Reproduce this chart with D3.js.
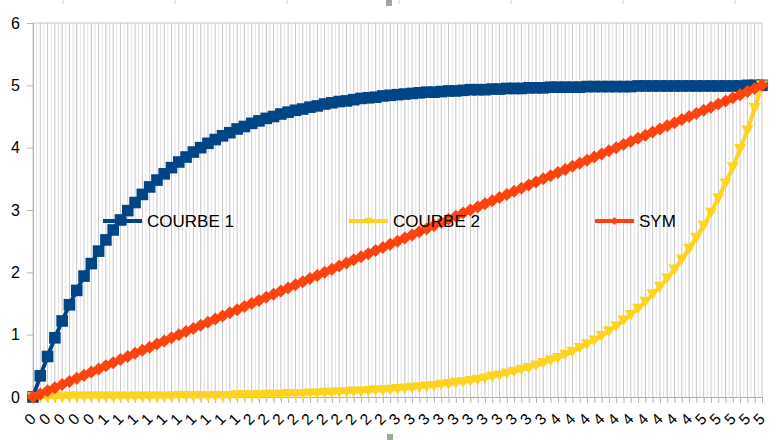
<!DOCTYPE html>
<html>
<head>
<meta charset="utf-8">
<style>
body {
  margin: 0;
  background: #fff;
}
text {
  font-family: "Liberation Sans", Arial, sans-serif;
  fill: #000;
}
</style>
<script src="https://cdn.jsdelivr.net/npm/d3@7"></script>
</head>
<body>
<script>
  const width = 780;
  const height = 440;

  // 101 categories, one label shown every second one
  const categories = d3.range(101);
  const tickLabels = [
    "0","0","0","0","0",
    "1","1","1","1","1","1","1","1","1","1",
    "2","2","2","2","2","2","2","2","2","2",
    "3","3","3","3","3","3","3","3","3","3","3",
    "4","4","4","4","4","4","4","4","4","4",
    "5","5","5","5","5"
  ];
  const yTicks = [0, 1, 2, 3, 4, 5, 6];
  const seriesNames = ["COURBE 1", "COURBE 2", "SYM"];

  const courbe1 = [
    0, 0.34, 0.65, 0.95, 1.22, 1.48, 1.71, 1.94, 2.14, 2.34,
    2.52, 2.68, 2.84, 2.99, 3.12, 3.25, 3.37, 3.48, 3.58, 3.68,
    3.77, 3.85, 3.93, 4.00, 4.07, 4.13, 4.19, 4.24, 4.30, 4.34,
    4.39, 4.43, 4.47, 4.50, 4.54, 4.57, 4.60, 4.62, 4.65, 4.67,
    4.70, 4.72, 4.74, 4.75, 4.77, 4.79, 4.80, 4.81, 4.83, 4.84,
    4.85, 4.86, 4.87, 4.88, 4.89, 4.89, 4.90, 4.91, 4.91, 4.92,
    4.93, 4.93, 4.93, 4.94, 4.94, 4.95, 4.95, 4.95, 4.96, 4.96,
    4.96, 4.97, 4.97, 4.97, 4.97, 4.97, 4.98, 4.98, 4.98, 4.98,
    4.98, 4.98, 4.98, 4.99, 4.99, 4.99, 4.99, 4.99, 4.99, 4.99,
    4.99, 4.99, 4.99, 4.99, 4.99, 4.99, 4.99, 4.99, 5.00, 5.00, 5.00
  ];

  const courbe2 = [
    0.00, 0.00, 0.00, 0.00, 0.00, 0.01, 0.01, 0.01, 0.01, 0.01,
    0.01, 0.01, 0.01, 0.01, 0.01, 0.01, 0.01, 0.01, 0.01, 0.01,
    0.02, 0.02, 0.02, 0.02, 0.02, 0.02, 0.02, 0.02, 0.03, 0.03,
    0.03, 0.03, 0.04, 0.04, 0.04, 0.05, 0.05, 0.05, 0.06, 0.06,
    0.07, 0.07, 0.08, 0.08, 0.09, 0.09, 0.10, 0.11, 0.11, 0.12,
    0.13, 0.14, 0.15, 0.16, 0.17, 0.18, 0.20, 0.21, 0.23, 0.24,
    0.26, 0.28, 0.30, 0.33, 0.35, 0.38, 0.41, 0.44, 0.47, 0.51,
    0.55, 0.59, 0.63, 0.68, 0.73, 0.79, 0.85, 0.91, 0.98, 1.06,
    1.14, 1.23, 1.32, 1.42, 1.53, 1.65, 1.77, 1.91, 2.05, 2.21,
    2.38, 2.56, 2.75, 2.96, 3.19, 3.43, 3.69, 3.98, 4.28, 4.64, 5.00
  ];

  const sym = [
    0, 0.05, 0.1, 0.15, 0.2, 0.25, 0.3, 0.35, 0.4, 0.45,
    0.5, 0.55, 0.6, 0.65, 0.7, 0.75, 0.8, 0.85, 0.9, 0.95,
    1, 1.05, 1.1, 1.15, 1.2, 1.25, 1.3, 1.35, 1.4, 1.45,
    1.5, 1.55, 1.6, 1.65, 1.7, 1.75, 1.8, 1.85, 1.9, 1.95,
    2, 2.05, 2.1, 2.15, 2.2, 2.25, 2.3, 2.35, 2.4, 2.45,
    2.5, 2.55, 2.6, 2.65, 2.7, 2.75, 2.8, 2.85, 2.9, 2.95,
    3, 3.05, 3.1, 3.15, 3.2, 3.25, 3.3, 3.35, 3.4, 3.45,
    3.5, 3.55, 3.6, 3.65, 3.7, 3.75, 3.8, 3.85, 3.9, 3.95,
    4, 4.05, 4.1, 4.15, 4.2, 4.25, 4.3, 4.35, 4.4, 4.45,
    4.5, 4.55, 4.6, 4.65, 4.7, 4.75, 4.8, 4.85, 4.9, 4.95, 5
  ];

  const colors = ["#004586", "#ffd320", "#ff420e"];

  const plot = { left: 33, right: 762, top: 23, bottom: 397 };

  const x = d3.scalePoint()
    .domain(categories)
    .range([plot.left, plot.right]);

  const y = d3.scaleLinear()
    .domain([0, 6])
    .range([plot.bottom, plot.top]);

  const svg = d3.select("body")
    .append("svg")
    .attr("width", width)
    .attr("height", height);

  // vertical grid: a darker line on each category, a lighter one between
  const step = x.step();
  svg.append("g")
    .selectAll("line")
    .data(categories.slice(0, -1))
    .enter()
    .append("line")
      .attr("x1", function(d) { return x(d) + step / 2; })
      .attr("x2", function(d) { return x(d) + step / 2; })
      .attr("y1", plot.top)
      .attr("y2", plot.bottom)
      .attr("stroke", "#e3e3e3")
      .attr("stroke-width", 1);

  svg.append("g")
    .selectAll("line")
    .data(categories)
    .enter()
    .append("line")
      .attr("x1", function(d) { return x(d); })
      .attr("x2", function(d) { return x(d); })
      .attr("y1", plot.top)
      .attr("y2", plot.bottom)
      .attr("stroke", "#c6c6c6")
      .attr("stroke-width", 1);

  svg.append("line")
    .attr("x1", plot.left).attr("x2", plot.right)
    .attr("y1", y(6)).attr("y2", y(6))
    .attr("stroke", "#c6c6c6");

  // y axis
  const yAxis = svg.append("g")
    .attr("transform", "translate(" + plot.left + ",0)")
    .call(d3.axisLeft(y).tickValues(yTicks).tickSize(6).tickPadding(7).tickFormat(d3.format("d")));
  yAxis.select(".domain").attr("stroke", "#b3b3b3");
  yAxis.selectAll(".tick line").attr("stroke", "#b3b3b3");
  yAxis.selectAll("text")
    .style("font-size", "16px")
    .attr("fill", "#000");

  // x axis
  const xAxis = svg.append("g")
    .attr("transform", "translate(0," + plot.bottom + ")")
    .call(d3.axisBottom(x).tickSize(6).tickSizeOuter(0).tickFormat(""));
  xAxis.select(".domain").attr("stroke", "#b3b3b3");
  xAxis.selectAll(".tick line").attr("stroke", "#b3b3b3");

  svg.append("g")
    .selectAll("text")
    .data(tickLabels)
    .enter()
    .append("text")
      .attr("transform", function(d, i) {
        return "translate(" + (x(categories[i * 2]) - 3) + ",419) rotate(-45)";
      })
      .attr("text-anchor", "middle")
      .attr("dominant-baseline", "central")
      .style("font-size", "15.5px")
      .text(function(d) { return d; });

  // marker shapes
  function markerPath(kind, s) {
    if (kind === 0) {
      return "M" + (-s) + "," + (-s) + "H" + s + "V" + s + "H" + (-s) + "Z";
    } else if (kind === 1) {
      return "M" + (-s) + "," + (-s * 0.8) + "H" + s + "L0," + (s * 1.0) + "Z";
    }
    return "M0," + (-s) + "L" + s + ",0L0," + s + "L" + (-s) + ",0Z";
  }

  const series = [courbe1, courbe2, sym];
  const markerSize = [5.8, 6, 6.5];
  const line = d3.line()
    .x(function(d, i) { return x(categories[i]); })
    .y(function(d) { return y(d); });

  series.forEach(function(values, k) {
    const g = svg.append("g");
    g.append("path")
      .attr("d", line(values))
      .attr("fill", "none")
      .attr("stroke", colors[k])
      .attr("stroke-width", 4)
      .attr("stroke-linejoin", "round");
    g.selectAll(".marker")
      .data(values)
      .enter()
      .append("path")
        .attr("class", "marker")
        .attr("transform", function(d, i) { return "translate(" + x(categories[i]) + "," + y(d) + ")"; })
        .attr("d", markerPath(k, markerSize[k]))
        .attr("fill", colors[k]);
  });

  // legend inside the plot
  const legend = svg.append("g")
    .selectAll("g")
    .data(seriesNames)
    .enter()
    .append("g")
      .attr("transform", function(d, i) { return "translate(" + (103 + i * 246) + ",221)"; });

  legend.append("line")
    .attr("x1", 0).attr("x2", 39)
    .attr("stroke", function(d, i) { return colors[i]; })
    .attr("stroke-width", 4);
  legend.append("path")
    .attr("transform", "translate(19.5,0)")
    .attr("d", function(d, i) { return markerPath(i, 4); })
    .attr("fill", function(d, i) { return colors[i]; });
  legend.append("text")
    .attr("x", 44)
    .attr("y", 6)
    .style("font-size", "17px")
    .text(function(d) { return d; });

  // small handles of the editing frame
  const handles = [63, 175, 287, 399, 511, 623, 735];
  svg.append("g")
    .selectAll("line")
    .data(handles)
    .enter()
    .append("line")
      .attr("x1", function(d) { return d; })
      .attr("x2", function(d) { return d; })
      .attr("y1", 0).attr("y2", 4)
      .attr("stroke", "#d0d0d0");
  svg.append("rect")
    .attr("x", 386).attr("y", 0).attr("width", 6).attr("height", 6)
    .attr("fill", "#9aa99a");
  svg.append("rect")
    .attr("x", 387).attr("y", 434).attr("width", 6).attr("height", 6)
    .attr("fill", "#9aa99a");
</script>
</body>
</html>
